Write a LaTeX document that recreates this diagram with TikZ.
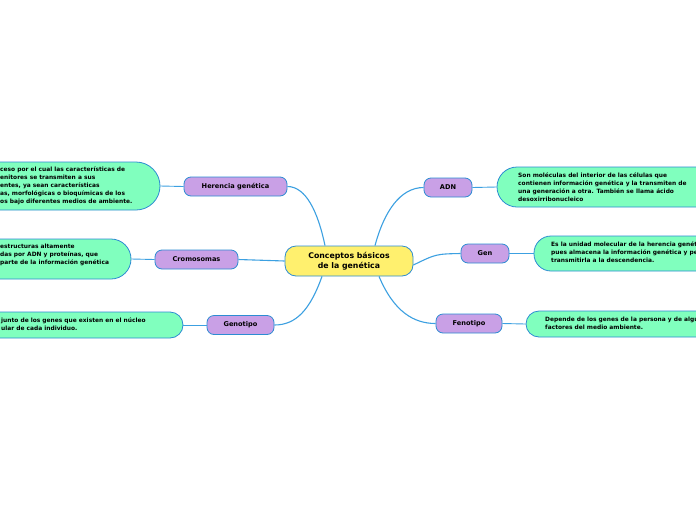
\documentclass[tikz,border=0pt]{standalone}
\usepackage{fontspec}
\setmainfont{DejaVu Sans}
\definecolor{yel}{RGB}{255,240,110}
\definecolor{pur}{RGB}{201,160,230}
\definecolor{grn}{RGB}{128,255,190}
\definecolor{bordc}{RGB}{45,140,210}
\definecolor{linec}{RGB}{60,160,225}
\begin{document}
\begin{tikzpicture}[x=1pt,y=-1pt,
  mainbox/.style={draw=bordc, line width=0.8pt, fill=yel, rounded corners=11pt, minimum width=128pt, minimum height=30pt, font=\bfseries\fontsize{7.8}{10}\selectfont, align=center, inner sep=0},
  subbox/.style={draw=bordc, line width=0.8pt, fill=pur, rounded corners=7pt, minimum height=19pt, font=\bfseries\fontsize{6.6}{8}\selectfont, inner sep=0},
  leafbox/.style={draw=bordc, line width=0.8pt, fill=grn, inner sep=0},
  txt/.style={font=\bfseries\fontsize{5.9}{7.9}\selectfont, align=left, inner sep=0, anchor=west},
  conn/.style={draw=linec, line width=1.1pt},
  leafconn/.style={draw=linec, line width=0.9pt}]
\useasboundingbox (0,0) rectangle (696,520);
\clip (0,0) rectangle (696,520);
\fill[white] (0,0) rectangle (696,520);
% leaves
\node[leafbox, minimum width=220pt, minimum height=48pt, rounded corners=24pt] (lher) at (50,186) {};
\node[leafbox, minimum width=191pt, minimum height=40pt, rounded corners=20pt] (lcro) at (35.5,259) {};
\node[leafbox, minimum width=243pt, minimum height=26pt, rounded corners=13pt] (lgeno) at (61.5,325) {};
\node[leafbox, minimum width=263pt, minimum height=40pt, rounded corners=20pt] (radn) at (628.5,187) {};
\node[leafbox, minimum width=226pt, minimum height=35pt, rounded corners=17pt] (rgen) at (647,253.5) {};
\node[leafbox, minimum width=234pt, minimum height=26pt, rounded corners=13pt] (rfeno) at (643,324) {};
% leaf texts
\node[txt] (t1) at (0,186) {ceso por el cual las características de\\enitores se transmiten a sus\\entes, ya sean características\\as, morfológicas o bioquímicas de los\\os bajo diferentes medios de ambiente.};
\node[txt] (t2) at (0,255) {estructuras altamente\\das por ADN y proteínas, que\\parte de la información genética};
\node[txt] (t3) at (1,324.5) {junto de los genes que existen en el núcleo\\ular de cada individuo.};
\node[txt] (t4) at (518,187) {Son moléculas del interior de las células que\\contienen información genética y la transmiten de\\una generación a otra. También se llama ácido\\desoxirribonucleico};
\node[txt] (t5) at (551,252) {Es la unidad molecular de la herencia genética,\\pues almacena la información genética y permite\\transmitirla a la descendencia.};
\node[txt] (t6) at (545,323.5) {Depende de los genes de la persona y de algunos\\factores del medio ambiente.};
% central and subtopics
\node[mainbox] (c) at (349,261) {Conceptos básicos\\de la genética};
\node[subbox, minimum width=103pt] (her) at (235.5,186.5) {Herencia genética};
\node[subbox, minimum width=83pt] (cro) at (196.5,259.5) {Cromosomas};
\node[subbox, minimum width=67pt] (geno) at (240.5,325) {Genotipo};
\node[subbox, minimum width=48pt] (adn) at (448,187.5) {ADN};
\node[subbox, minimum width=48pt] (gen) at (485,253.5) {Gen};
\node[subbox, minimum width=66pt] (feno) at (469,323.5) {Fenotipo};
% connectors
\draw[conn] ([xshift=-24pt]c.north) .. controls (318,212) and (306,186.5) .. (her.east);
\draw[conn] (c.west) .. controls (262,260.5) .. (cro.east);
\draw[conn] ([xshift=-27pt]c.south) .. controls (310,310) and (296,325) .. (geno.east);
\draw[conn] ([xshift=26pt]c.north) .. controls (384,212) and (400,187.5) .. (adn.west);
\draw[conn] ([yshift=-4pt]c.east) .. controls (436,254) .. (gen.west);
\draw[conn] ([xshift=30pt]c.south) .. controls (394,312) and (414,323.5) .. (feno.west);
\draw[leafconn] (her.west) -- (lher.east);
\draw[leafconn] (cro.west) -- (lcro.east);
\draw[leafconn] (geno.west) -- (lgeno.east);
\draw[leafconn] (adn.east) -- (radn.west);
\draw[leafconn] (gen.east) -- (rgen.west);
\draw[leafconn] (feno.east) -- (rfeno.west);
\end{tikzpicture}
\end{document}
